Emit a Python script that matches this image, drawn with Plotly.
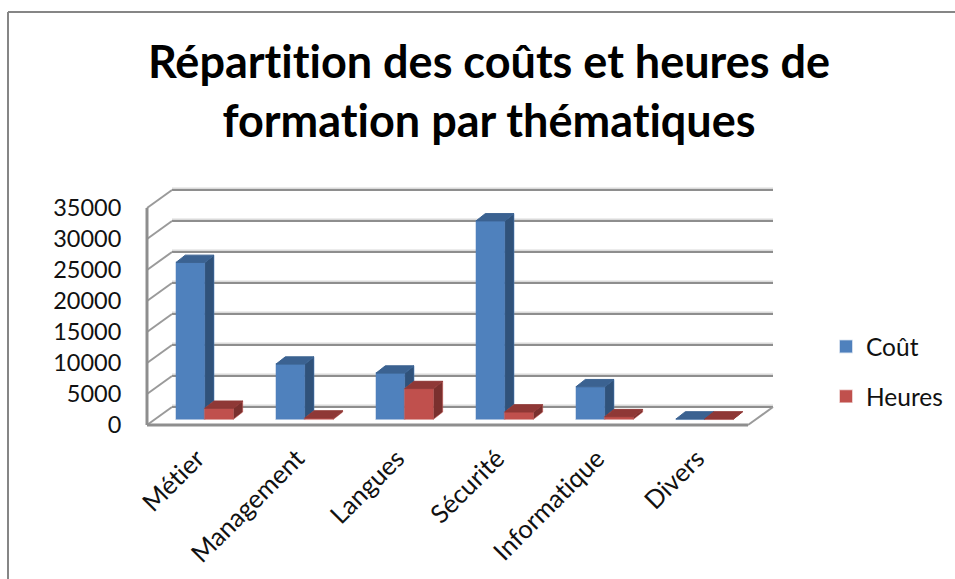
import plotly.graph_objects as go

categories = ["Métier", "Management", "Langues", "Sécurité", "Informatique", "Divers"]
cout = [25300, 8900, 7450, 32000, 5250, 50]
heures = [1770, 200, 4950, 1180, 420, 50]
y_ticks = [0, 5000, 10000, 15000, 20000, 25000, 30000, 35000]
title_text = "Répartition des coûts et heures de<br>formation par thématiques"

W, H = 955, 579
FONT = "Lato"
# pixel box of the subplot (a bit wider than the drawn walls so nothing gets clipped)
BOX_L, BOX_R, BOX_T, BOX_B = 140, 780, 182, 432
# wall geometry in pixels
WALL_L, WALL_B = 147, 425
PX_PER_CAT = 100.0
PX_PER_VAL = 31.0 / 5000
X_AT_WALL = -0.5
X0 = X_AT_WALL - (WALL_L - BOX_L) / PX_PER_CAT
X1 = X_AT_WALL + (BOX_R - WALL_L) / PX_PER_CAT
Y0 = -(BOX_B - WALL_B) / PX_PER_VAL
Y1 = (WALL_B - BOX_T) / PX_PER_VAL

wall_dx = 25 / PX_PER_CAT
wall_dy = 18 / PX_PER_VAL
bar_dx = 9.3 / PX_PER_CAT
bar_dy = 7.3 / PX_PER_VAL
bar_base = 5.7 / PX_PER_VAL
floor_right = X_AT_WALL + (748 - WALL_L) / PX_PER_CAT
wall_right = floor_right + wall_dx
off_blue, off_red, bw = -0.21, 0.075, 0.287

BLUE, BLUE_SIDE, BLUE_TOP = "#4F81BD", "#30527A", "#3B6291"
RED, RED_SIDE, RED_TOP = "#C0504D", "#7A302E", "#8F3836"
GRID, HALO = "#8E8E8E", "#DADADA"


def poly(color, edge, xs, ys):
    return go.Scatter(x=xs, y=ys, mode="lines", fill="toself", fillcolor=color,
                      line=dict(color=edge, width=1), hoverinfo="skip",
                      showlegend=False, cliponaxis=False)


def seg(x0, y0, x1, y1, color=GRID, width=2):
    return dict(type="line", xref="x", yref="y", layer="below", x0=x0, y0=y0, x1=x1, y1=y1,
                line=dict(color=color, width=width))


shapes = []
for t in y_ticks:
    shapes.append(seg(X_AT_WALL + wall_dx, t + wall_dy + 1.6 / PX_PER_VAL, wall_right, t + wall_dy + 1.6 / PX_PER_VAL, HALO, 2))
    shapes.append(seg(X_AT_WALL + wall_dx, t + wall_dy, wall_right, t + wall_dy, GRID, 2))
    shapes.append(seg(X_AT_WALL, t, X_AT_WALL + wall_dx, t + wall_dy, "#9A9A9A", 2))
shapes.append(seg(X_AT_WALL, y_ticks[-1], X_AT_WALL, 0, GRID, 3))
shapes.append(seg(X_AT_WALL, 0, floor_right, 0, GRID, 3))
shapes.append(seg(floor_right, 0, wall_right, wall_dy, "#9A9A9A", 2))
# outer frame of the picture
shapes.append(dict(type="line", xref="paper", yref="paper", x0=8 / W, x1=8 / W, y0=0, y1=1 - 12 / H,
                   line=dict(color="#868686", width=2)))
shapes.append(dict(type="line", xref="paper", yref="paper", x0=8 / W, x1=1, y0=1 - 12 / H, y1=1 - 12 / H,
                   line=dict(color="#868686", width=2)))

fig = go.Figure()

pos = list(range(len(categories)))
fig.add_trace(go.Bar(x=pos, y=cout, base=[bar_base] * 6, offset=off_blue, width=bw,
                     name="Coût", legendgroup="a",
                     marker=dict(color=BLUE, line=dict(color="rgba(79,129,189,0.35)", width=1.5))))
fig.add_trace(go.Bar(x=pos, y=heures, base=[bar_base] * 6, offset=off_red, width=bw,
                     name="Heures", legendgroup="b",
                     marker=dict(color=RED, line=dict(color="rgba(192,80,77,0.35)", width=1.5))))

EDGE_B, EDGE_R = "rgba(79,129,189,0.55)", "rgba(192,80,77,0.55)"
for i in pos:
    bx0, bx1 = i + off_blue, i + off_blue + bw
    rx1 = bx1 + bw
    bt, rt = bar_base + cout[i], bar_base + heures[i]
    lo = min(bt, rt)
    fig.add_trace(poly(BLUE_SIDE, EDGE_B, [bx1, bx1 + bar_dx, bx1 + bar_dx, bx1, bx1],
                       [bt, bt + bar_dy, lo + bar_dy, lo, bt]))
    fig.add_trace(poly(BLUE_TOP, BLUE_TOP, [bx0, bx0 + bar_dx, bx1 + bar_dx, bx1, bx0],
                       [bt, bt + bar_dy, bt + bar_dy, bt, bt]))
    fig.add_trace(poly(RED_SIDE, EDGE_R, [rx1, rx1 + bar_dx, rx1 + bar_dx, rx1, rx1],
                       [rt, rt + bar_dy, bar_base + bar_dy, bar_base, rt]))
    fig.add_trace(poly(RED_TOP, RED_TOP, [bx1, bx1 + bar_dx, rx1 + bar_dx, rx1, bx1],
                       [rt, rt + bar_dy, rt + bar_dy, rt, rt]))

fig.update_layout(
    width=W, height=H, margin=dict(l=0, r=0, t=0, b=0, autoexpand=False),
    paper_bgcolor="white", plot_bgcolor="rgba(0,0,0,0)",
    font=dict(family=FONT, color="#111111"),
    barmode="overlay", shapes=shapes,
    title=dict(text=title_text, x=489 / W, xanchor="center", y=1 - 78 / H, yanchor="middle",
               font=dict(family=FONT, size=45, color="#000000", weight="bold")),
    xaxis=dict(domain=[BOX_L / W, BOX_R / W], range=[X0, X1], tickvals=pos, ticktext=categories,
               showgrid=False, zeroline=False, showline=False, ticks="outside", ticklen=0.5,
               tickcolor="rgba(0,0,0,0)", tickangle=-45, tickfont=dict(size=25.5)),
    yaxis=dict(domain=[1 - BOX_B / H, 1 - BOX_T / H], range=[Y0, Y1], tickvals=y_ticks,
               ticktext=[str(t) for t in y_ticks], showgrid=False, zeroline=False, showline=False,
               ticks="outside", ticklen=13, tickcolor="rgba(0,0,0,0)", tickfont=dict(size=23.5)),
    legend=dict(x=826 / W, y=1 - 324 / H, xanchor="left", yanchor="top",
                font=dict(size=24.5), itemwidth=30, tracegroupgap=15, bgcolor="rgba(0,0,0,0)"),
)

fig.write_html("out.html",
               post_script="document.body.style.margin='0';"
                           "var s=document.createElement('style');"
                           "s.textContent='svg text{font-variant-ligatures:none !important;"
                           "font-feature-settings:\"liga\" 0,\"clig\" 0,\"calt\" 0 !important}';"
                           "document.head.appendChild(s);",
               config={"displayModeBar": False})
